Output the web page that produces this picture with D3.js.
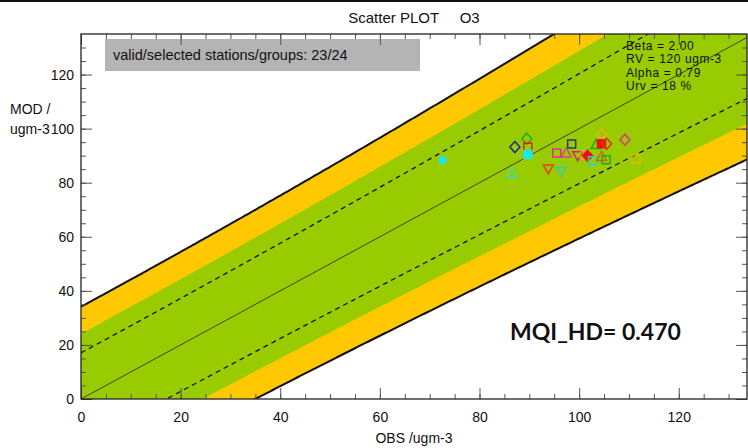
<!DOCTYPE html>
<html><head><meta charset="utf-8">
<script src="https://cdn.jsdelivr.net/npm/d3@7/dist/d3.min.js"></script>
<style>
html,body{margin:0;padding:0;background:#fff;}
svg{display:block;font-family:"Liberation Sans",Arial,sans-serif;}
</style></head>
<body>
<svg id="chart" width="748" height="448"></svg>
<script>
// ---- data ----
const params = { beta: 2.0, rv: 120, alpha: 0.79, urv: 0.18 };
const statLines = ["Beta = 2.00", "RV = 120 ugm-3", "Alpha = 0.79", "Urv = 18 %"];
const xTickValues = [0, 20, 40, 60, 80, 100, 120];
const yTickValues = [0, 20, 40, 60, 80, 100, 120];
const obsValues = [72.6, 86.5, 87.1, 89.5, 89.7, 89.7, 98.5, 95.5, 97.4, 93.8, 96.4, 99.7, 101.0, 101.7, 102.7, 103.4, 104.5, 104.5, 105.5, 104.5, 105.4, 109.2, 111.4];
const modValues = [88.3, 83.6, 93.2, 96.3, 93.1, 90.4, 94.3, 91.0, 91.0, 85.1, 84.2, 90.0, 90.1, 90.0, 88.1, 94.1, 97.8, 94.4, 94.4, 89.7, 88.5, 95.9, 88.8];
const markerShapes = ["circle","triUp","diamond","diamond","square","square","square","square","triUp","triDown","triDown","triDown","circle","diamond","square","triUp","diamond","square","diamond","triUp","square","diamond","square"];
const markerColors = ["#22e6e6","#40dcc0","#1a2a9a","#22aa22","#dd2222","#22e6e6","#2a3a70","#e0308a","#e0408a","#dd4411","#30d0b0","#e02080","#f0a020","#ee1111","#30d0d0","#22aa22","#f0b020","#ee1111","#dd3311","#cc6600","#22aa22","#e0308a","#e6b800"];
const markerFilled = [true,false,false,false,false,true,false,false,false,false,false,false,false,true,false,false,false,true,false,false,false,false,false];
const validText = "valid/selected stations/groups: 23/24";
const mqiText = "MQI_HD= 0.470";

// ---- layout ----
const W = 748, H = 448;
const L = 81, R = 747, T = 34, B = 399;
const xMax = 133.7, yMax = 135;
const svg = d3.select("#chart");
const x = d3.scaleLinear().domain([0, xMax]).range([L, R]);
const y = d3.scaleLinear().domain([0, yMax]).range([B, T]);

svg.append("rect").attr("x",0).attr("y",0).attr("width",W).attr("height",2).attr("fill","#111");

const defs = svg.append("defs");
defs.append("clipPath").attr("id","plotclip").append("rect")
  .attr("x",L).attr("y",T).attr("width",R-L).attr("height",B-T);

const U = o => params.urv * Math.sqrt((1 - params.alpha*params.alpha)*o*o + params.alpha*params.alpha*params.rv*params.rv);
const obsGrid = d3.range(0, xMax + 0.5, 0.5);
const upper = k => obsGrid.map(o => [o, o + k*U(o)]);
const lower = k => obsGrid.map(o => [o, o - k*U(o)]);
const lineGen = d3.line().x(d => x(d[0])).y(d => y(d[1]));
const band = k => lineGen(upper(k).concat(lower(k).reverse())) + "Z";

const g = svg.append("g").attr("clip-path","url(#plotclip)");
g.append("path").attr("d", band(params.beta)).attr("fill","#ffc800");
g.append("path").attr("d", band(params.beta/Math.SQRT2)).attr("fill","#99cc00");
[upper(1), lower(1)].forEach(pts => g.append("path").attr("d", lineGen(pts))
  .attr("fill","none").attr("stroke","#111").attr("stroke-width",1.3).attr("stroke-dasharray","5,4"));
g.append("path").attr("d", lineGen([[0,0],[xMax,xMax]])).attr("fill","none").attr("stroke","#222").attr("stroke-width",0.8);
[upper(params.beta), lower(params.beta)].forEach(pts => g.append("path").attr("d", lineGen(pts))
  .attr("fill","none").attr("stroke","#111").attr("stroke-width",2));

// gray info box
svg.append("rect").attr("x",105).attr("y",39).attr("width",315).attr("height",32).attr("fill","#b4b4b4");
svg.append("text").attr("x",113).attr("y",60).attr("font-size",14.5).attr("fill","#111").text(validText);

// stats
statLines.forEach((s,i) => svg.append("text").attr("x",626).attr("y",50 + i*13.4)
  .attr("font-size",12).attr("letter-spacing",0.6).attr("fill","#111").text(s));

// markers
const shapePath = (s) => {
  switch(s){
    case "square": return "M-4,-4H4V4H-4Z";
    case "diamond": return "M0,-5.5L5,0L0,5.5L-5,0Z";
    case "triUp": return "M0,-5L5,4H-5Z";
    case "triDown": return "M0,5L5,-4H-5Z";
    default: return d3.symbol(d3.symbolCircle, 55)();
  }
};
svg.append("g").selectAll("path").data(obsValues).join("path")
  .attr("transform",(d,i) => `translate(${x(d)},${y(modValues[i])})`)
  .attr("d",(d,i) => markerFilled[i] && markerShapes[i]==="circle" ? d3.symbol(d3.symbolCircle, 40)() : shapePath(markerShapes[i]))
  .attr("fill",(d,i) => markerFilled[i] ? markerColors[i] : "none")
  .attr("stroke",(d,i) => markerColors[i])
  .attr("stroke-width",1.5);

// axes
const minors = d3.range(0, 135, 5);
function styleAxis(sel){ sel.select(".domain").remove(); sel.selectAll(".tick line").attr("stroke","#555"); }
const fmt = d3.format("d");
svg.append("g").attr("transform",`translate(${L},0)`)
  .call(d3.axisLeft(y).tickValues(minors).tickSize(-5).tickFormat("")).call(styleAxis);
svg.append("g").attr("transform",`translate(${L},0)`)
  .call(d3.axisLeft(y).tickValues(yTickValues).tickSize(-11).tickPadding(7).tickFormat(fmt)).call(styleAxis)
  .selectAll("text").attr("font-size",14).attr("fill","#111").attr("font-family","Liberation Sans, Arial, sans-serif");
svg.append("g").attr("transform",`translate(${R},0)`)
  .call(d3.axisRight(y).tickValues(minors).tickSize(-5).tickFormat("")).call(styleAxis);
svg.append("g").attr("transform",`translate(${R},0)`)
  .call(d3.axisRight(y).tickValues(yTickValues).tickSize(-11).tickFormat("")).call(styleAxis);
svg.append("g").attr("transform",`translate(0,${B})`)
  .call(d3.axisBottom(x).tickValues(minors.filter(v => v <= xMax)).tickSize(-5).tickFormat("")).call(styleAxis);
svg.append("g").attr("transform",`translate(0,${B})`)
  .call(d3.axisBottom(x).tickValues(xTickValues).tickSize(-11).tickPadding(13).tickFormat(fmt)).call(styleAxis)
  .selectAll("text").attr("font-size",14).attr("fill","#111").attr("font-family","Liberation Sans, Arial, sans-serif");
svg.append("g").attr("transform",`translate(0,${T})`)
  .call(d3.axisTop(x).tickValues(minors.filter(v => v <= xMax)).tickSize(-5).tickFormat("")).call(styleAxis);
svg.append("g").attr("transform",`translate(0,${T})`)
  .call(d3.axisTop(x).tickValues(xTickValues).tickSize(-11).tickFormat("")).call(styleAxis);

svg.append("rect").attr("x",L).attr("y",T).attr("width",R-L).attr("height",B-T)
  .attr("fill","none").attr("stroke","#222").attr("stroke-width",1.3);

// titles
svg.append("text").attr("x",(L+R)/2).attr("y",23).attr("text-anchor","middle").attr("font-size",15)
  .attr("fill","#111").style("white-space","pre").text("Scatter PLOT     O3");
svg.append("text").attr("x",(L+R)/2).attr("y",443).attr("text-anchor","middle").attr("font-size",14)
  .attr("fill","#111").text("OBS /ugm-3");
svg.append("text").attr("x",10).attr("y",114).attr("font-size",14).attr("fill","#111").text("MOD /");
svg.append("text").attr("x",10).attr("y",134).attr("font-size",14).attr("fill","#111").text("ugm-3");

// MQI
svg.append("text").attr("x",510).attr("y",340).attr("font-size",23).attr("font-weight","bold")
  .attr("font-family","Lato, 'Open Sans', sans-serif").attr("fill","#111").text(mqiText);
</script>
</body></html>
